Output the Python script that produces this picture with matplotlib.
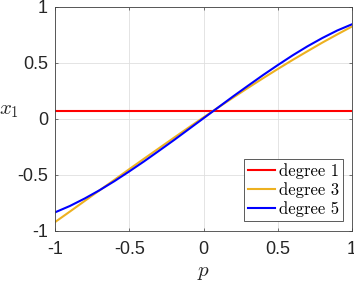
import matplotlib
matplotlib.use("Agg")
import matplotlib.pyplot as plt

# values
P = [-1.0, -0.9, -0.8, -0.7, -0.6, -0.5, -0.4, -0.3, -0.2, -0.1, 0.0,
     0.1, 0.2, 0.3, 0.4, 0.5, 0.6, 0.7, 0.8, 0.9, 1.0]
DEG1 = [0.072] * len(P)
DEG3 = [-0.925, -0.831, -0.736, -0.641, -0.547, -0.452, -0.358, -0.265,
        -0.172, -0.080, 0.011, 0.100, 0.188, 0.275, 0.360, 0.443, 0.524,
        0.602, 0.679, 0.752, 0.823]
DEG5 = [-0.838, -0.781, -0.714, -0.640, -0.559, -0.472, -0.382, -0.288,
        -0.193, -0.095, 0.003, 0.101, 0.199, 0.294, 0.388, 0.478, 0.565,
        0.646, 0.720, 0.787, 0.843]

SERIES = [("degree 1", DEG1, "#FF0000"),
          ("degree 3", DEG3, "#EDB120"),
          ("degree 5", DEG5, "#0000FF")]
TICKS = [-1, -0.5, 0, 0.5, 1]
TICK_LABELS = ["-1", "-0.5", "0", "0.5", "1"]

plt.rcParams["mathtext.fontset"] = "cm"
plt.rcParams["font.family"] = ["Liberation Sans", "DejaVu Sans"]

W, H = 354, 285
fig = plt.figure(figsize=(W / 100, H / 100), dpi=100)
ax = fig.add_axes([55 / W, (H - 230.5) / H, (352 - 55) / W, (230.5 - 6.7) / H])

for label, ys, color in SERIES:
    ax.plot(P, ys, color=color, linewidth=1.5, label=label)

ax.set_xlim(-1, 1)
ax.set_ylim(-1, 1)
ax.set_xticks(TICKS)
ax.set_xticklabels(TICK_LABELS)
ax.set_yticks(TICKS)
ax.set_yticklabels(TICK_LABELS)

ax.grid(True, color="#dfdfdf", linewidth=0.6)
ax.set_axisbelow(True)
for sp in ax.spines.values():
    sp.set_color("#404040")
    sp.set_linewidth(0.6)
ax.tick_params(direction="in", top=True, right=True, length=2.2, width=0.5,
               colors="#404040", labelcolor="#262626", labelsize=13)
ax.tick_params(axis="x", pad=7.5)
ax.tick_params(axis="y", pad=5)

ax.set_xlabel("$p$", fontsize=15, color="#262626")
ax.xaxis.set_label_coords(0.5, -0.145)
ax.set_ylabel("$x_1$", fontsize=15, color="#262626", rotation=0,
              va="center")
ax.yaxis.set_label_coords(-0.155, 0.538)

leg = ax.legend(loc="lower right", bbox_to_anchor=(0.969, 0.0425),
                borderaxespad=0, fancybox=False, framealpha=1,
                edgecolor="#404040", prop={"family": "cmr10", "size": 12},
                handlelength=1.65, handletextpad=0.2, labelspacing=0.2,
                borderpad=0.25)
leg.get_frame().set_linewidth(0.6)

fig.savefig("out.png", dpi=100)
